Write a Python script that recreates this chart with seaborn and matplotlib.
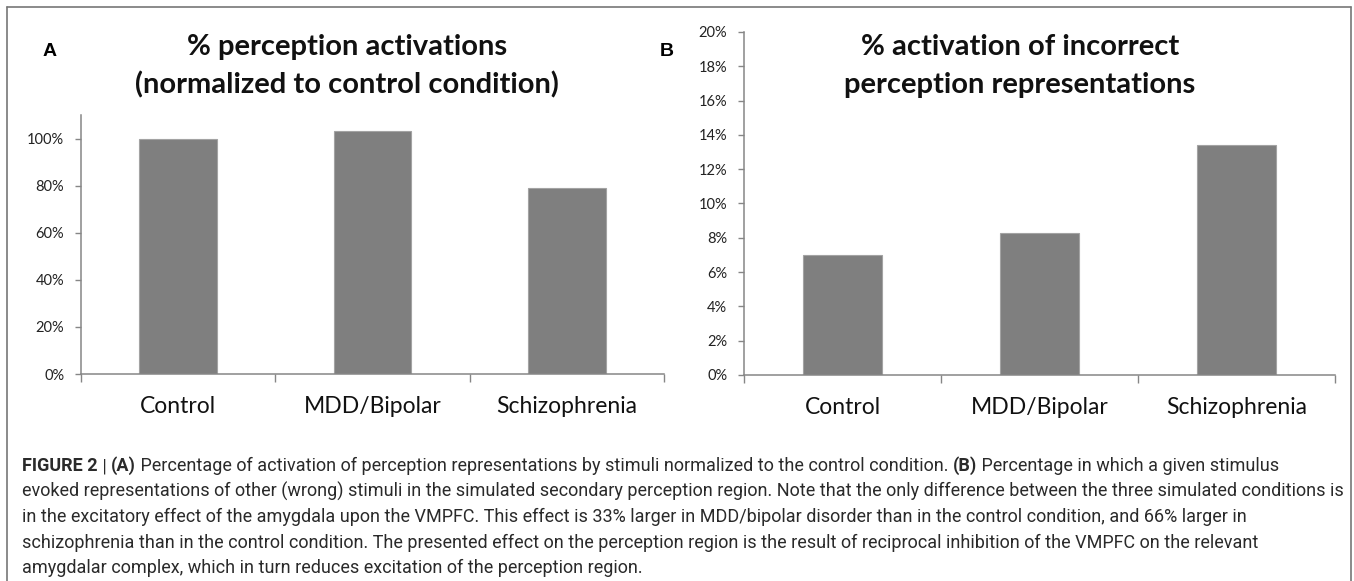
import pandas as pd
import numpy as np
import matplotlib
matplotlib.use('Agg')
import matplotlib.pyplot as plt
import seaborn as sns
from matplotlib import font_manager
from matplotlib.lines import Line2D
from matplotlib.ticker import FuncFormatter, MultipleLocator

# data
categories = ['Control', 'MDD/Bipolar', 'Schizophrenia']
perception_pct = [100.0, 103.5, 79.1]
incorrect_pct = [7.0, 8.3, 13.4]

title_a = ['% perception activations', '(normalized to control condition)']
title_b = ['% activation of incorrect', 'perception representations']

caption_lines = [
    [('FIGURE 2', True), (' | ', False), ('(A)', True),
     (' Percentage of activation of perception representations by stimuli normalized to the control condition. ', False),
     ('(B)', True), (' Percentage in which a given stimulus', False)],
    [('evoked representations of other (wrong) stimuli in the simulated secondary perception region. '
      'Note that the only difference between the three simulated conditions is', False)],
    [('in the excitatory effect of the amygdala upon the VMPFC. This effect is 33% larger in '
      'MDD/bipolar disorder than in the control condition, and 66% larger in', False)],
    [('schizophrenia than in the control condition. The presented effect on the perception region '
      'is the result of reciprocal inhibition of the VMPFC on the relevant', False)],
    [('amygdalar complex, which in turn reduces excitation of the perception region.', False)],
]

sns.set_theme(style='white')
plt.rcParams['font.family'] = ['Lato', 'DejaVu Sans']

W, H = 1354, 581
fig = plt.figure(figsize=(W / 100, H / 100), dpi=100)
renderer = fig.canvas.get_renderer()


def px_axes(x0, y0, x1, y1):
    return fig.add_axes([x0 / W, 1 - y1 / H, (x1 - x0) / W, (y1 - y0) / H])


axA = px_axes(81, 115, 664, 374)
axB = px_axes(744, 32, 1335, 375)

axis_grey = '#868686'
for ax, vals, top, step in [(axA, perception_pct, 110.2, 20), (axB, incorrect_pct, 20, 2)]:
    df = pd.DataFrame({'group': categories, 'value': vals})
    sns.barplot(data=df, x='group', y='value', color='#7f7f7f', saturation=1,
                width=0.4, edgecolor='#a3a3a3', linewidth=0.8, ax=ax)
    ax.set_xlim(-0.5, 2.5)
    ax.set_ylim(0, top)
    ax.set_xlabel('')
    ax.set_ylabel('')
    ax.yaxis.set_major_locator(MultipleLocator(step))
    ax.yaxis.set_major_formatter(FuncFormatter(lambda v, p: f'{v:.0f}%'))
    ax.set_xticks([-0.5, 0.5, 1.5, 2.5], minor=True)
    ax.tick_params(axis='y', length=4, width=1, color=axis_grey, labelsize=10.5,
                   labelcolor='#222222', pad=8, left=True)
    ax.tick_params(axis='x', which='major', length=0, pad=16, labelsize=16.5, labelcolor='#111111')
    ax.tick_params(axis='x', which='minor', length=6, width=1, color=axis_grey, bottom=True)
    sns.despine(ax=ax)
    for s in ['left', 'bottom']:
        ax.spines[s].set_color(axis_grey)
        ax.spines[s].set_linewidth(1.1)
    ax.set_facecolor('white')

# titles and panel letters
for (cx, lines) in [(347, title_a), (1020, title_b)]:
    for yy, line in zip([47, 84.5], lines):
        fig.text(cx / W, 1 - yy / H, line, ha='center', va='center',
                 fontsize=21, fontweight='bold', color='#111111')
for lx, letter in [(50, 'A'), (667, 'B')]:
    fig.text(lx / W, 1 - 51 / H, letter, ha='center', va='center', fontsize=14,
             fontweight='bold', family='Liberation Sans', color='#000000')

# frame around the figure
for xs, ys in [([7, 1351], [7, 7]), ([7, 7], [7, 581]), ([1351, 1351], [7, 581])]:
    fig.add_artist(Line2D([x / W for x in xs], [1 - y / H for y in ys],
                          transform=fig.transFigure, color='#777777', lw=1.2))

# caption
names = {f.name for f in font_manager.fontManager.ttflist}
cap_font = 'Liberation Sans Narrow' if 'Liberation Sans Narrow' in names else 'Roboto'
cap_color = '#2a2a2a'


def run_width(text, size, bold):
    t = fig.text(0, 0, text + 'x', fontsize=size, family=cap_font,
                 fontweight='bold' if bold else 'normal')
    t2 = fig.text(0, 0, 'x', fontsize=size, family=cap_font,
                  fontweight='bold' if bold else 'normal')
    w = t.get_window_extent(renderer).width - t2.get_window_extent(renderer).width
    t.remove()
    t2.remove()
    return w


ref = caption_lines[1][0][0]
cap_size = 12 * 1315 / run_width(ref, 12, False)

for i, runs in enumerate(caption_lines):
    x = 22
    y = 466 + 25.5 * i
    for text, bold in runs:
        fig.text(x / W, 1 - y / H, text, fontsize=cap_size, family=cap_font,
                 fontweight='bold' if bold else 'normal', color=cap_color,
                 ha='left', va='center')
        x += run_width(text, cap_size, bold)

fig.savefig('out.png', dpi=100)
